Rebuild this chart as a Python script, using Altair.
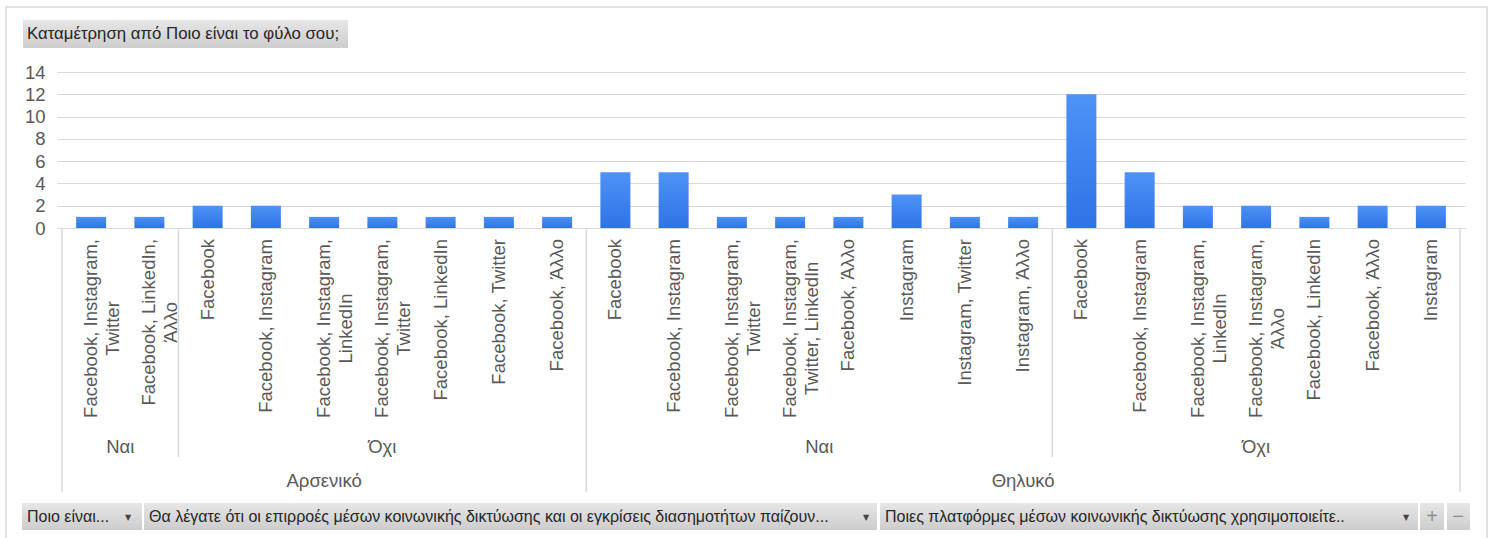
import altair as alt
import pandas as pd

# ---------------- data ----------------
genders = ["Αρσενικό"] * 9 + ["Θηλυκό"] * 15
influence = ["Ναι"] * 2 + ["Όχι"] * 7 + ["Ναι"] * 8 + ["Όχι"] * 7
platforms = [
    "Facebook, Instagram,\nTwitter", "Facebook, LinkedIn,\nΆλλο",
    "Facebook", "Facebook, Instagram", "Facebook, Instagram,\nLinkedIn",
    "Facebook, Instagram,\nTwitter", "Facebook, LinkedIn", "Facebook, Twitter",
    "Facebook, Άλλο",
    "Facebook", "Facebook, Instagram", "Facebook, Instagram,\nTwitter",
    "Facebook, Instagram,\nTwitter, LinkedIn", "Facebook, Άλλο", "Instagram",
    "Instagram, Twitter", "Instagram, Άλλο",
    "Facebook", "Facebook, Instagram", "Facebook, Instagram,\nLinkedIn",
    "Facebook, Instagram,\nΆλλο", "Facebook, LinkedIn", "Facebook, Άλλο",
    "Instagram",
]
counts = [1, 1, 2, 2, 1, 1, 1, 1, 1, 5, 5, 1, 1, 1, 3, 1, 1, 12, 5, 2, 2, 1, 2, 2]
y_ticks = [0, 2, 4, 6, 8, 10, 12, 14]

title_text = "Καταμέτρηση από Ποιο είναι το φύλο σου;"
filter_texts = [
    "Ποιο είναι...",
    "Θα λέγατε ότι οι επιρροές μέσων κοινωνικής δικτύωσης και οι εγκρίσεις διασημοτήτων παίζουν...",
    "Ποιες πλατφόρμες μέσων κοινωνικής δικτύωσης χρησιμοποιείτε..",
]

# ---------------- layout constants ----------------
W, H = 1408, 156          # plot area
OX, OY = 57, 72           # plot origin on the page
FONT = "Liberation Sans"
LBL = 18.5
GRAY = "#595959"
LINE = "#d9d9d9"
PX_PER_UNIT = H / 14.0

# approximate Arial / Liberation Sans advance widths (per 1000 em)
AW = {"F": 611, "a": 556, "c": 500, "e": 556, "b": 556, "o": 556, "k": 500,
      ",": 278, " ": 278, "I": 278, "n": 556, "s": 500, "t": 278, "g": 556,
      "r": 333, "m": 833, "L": 556, "i": 222, "d": 556, "T": 611, "w": 722,
      "l": 222, "Ά": 667, "λ": 500, "ο": 556}


def text_w(s, size):
    return sum(AW.get(ch, 556) for ch in s) * size / 1000.0


n = len(counts)
df = pd.DataFrame({"idx": list(range(n)), "gender": genders, "infl": influence,
                   "platform": platforms, "count": counts})
df["xc"] = df["idx"] + 0.5
df["multi"] = df["platform"].str.contains("\n")
label_top_gap = 11  # px between axis and top of the labels
df["ly"] = [-(label_top_gap + max(text_w(l, LBL) for l in p.split("\n")) / 2) / PX_PER_UNIT
            for p in platforms]

# group spans
g2 = df.groupby(["gender", "infl"], sort=False)["idx"].agg(["min", "max"]).reset_index()
g2["center"] = (g2["min"] + g2["max"] + 1) / 2
g1 = df.groupby("gender", sort=False)["idx"].agg(["min", "max"]).reset_index()
g1["center"] = (g1["min"] + g1["max"] + 1) / 2
lvl1_bounds = sorted(set(g1["min"].tolist() + [n]))
lvl2_bounds = sorted(set(g2["min"].tolist()) - set(lvl1_bounds))

xscale = alt.Scale(domain=[0, n], nice=False, zero=False)
yscale = alt.Scale(domain=[0, 14], nice=False)
y_axis = alt.Axis(values=y_ticks, grid=True, gridColor=LINE, gridWidth=1,
                  domain=False, ticks=False, tickSize=0, labelPadding=12,
                  labelOverlap=False, labelBound=False, labelFontSize=LBL,
                  labelColor=GRAY, labelFont=FONT, title=None)

one = alt.Data(values=[{}])

btn_grad = alt.Gradient(gradient="linear",
                        stops=[alt.GradientStop(color="#e6e6e6", offset=0),
                               alt.GradientStop(color="#cdcdcd", offset=1)],
                        x1=0, x2=0, y1=0, y2=1)
bar_grad = alt.Gradient(gradient="linear",
                        stops=[alt.GradientStop(color="#4f92f7", offset=0),
                               alt.GradientStop(color="#2f73e6", offset=1)],
                        x1=0, x2=0, y1=0, y2=1)


def rect(x0, x1, y0, y1, **kw):
    return alt.Chart(one).mark_rect(**kw).encode(
        x=alt.value(x0 - OX), x2=alt.value(x1 - OX),
        y=alt.value(y0 - OY), y2=alt.value(y1 - OY))


def label(txt, x, y, size=16, color="#262626", align="left", font=FONT):
    return alt.Chart(one).mark_text(text=txt, align=align, baseline="middle",
                                    fontSize=size, color=color, font=font).encode(
        x=alt.value(x - OX), y=alt.value(y - OY))


base = alt.Chart(df)

# bars with y axis / grid (first data layer, owns the axis)
bars = base.mark_bar(width=30, fill=bar_grad).encode(
    x=alt.X("xc:Q", scale=xscale, axis=None),
    y=alt.Y("count:Q", scale=yscale, axis=y_axis),
)

layers = []

# outer border
layers.append(rect(6, 1487, 7, 560, fillOpacity=0, stroke=LINE, strokeWidth=1.5))

# title button
layers.append(rect(23, 348, 20, 48, fill=btn_grad))
layers.append(label(title_text, 27, 34, size=16.8))

# bottom filter bar
for (a, b) in [(22, 142), (144, 877), (880, 1418), (1420, 1444), (1447, 1470)]:
    layers.append(rect(a, b, 503, 530, fill=btn_grad))
for txt, x in zip(filter_texts, [27, 149, 885]):
    layers.append(label(txt, x, 517, size=16))
for x in [128, 866, 1406]:
    layers.append(label("▼", x, 518, size=8, color="#444444", align="center",
                        font="DejaVu Sans"))
layers.append(label("+", 1432, 517, size=20, color="#8c8c8c", align="center"))
layers.append(label("−", 1458, 517, size=20, color="#8c8c8c", align="center"))

layers.append(bars)

# separators (start at the category axis line, which is the bottom of the plot)
sep1 = alt.Chart(pd.DataFrame({"b": lvl1_bounds})).mark_rule(color=LINE, strokeWidth=1.5).encode(
    x=alt.X("b:Q", scale=xscale, axis=None), y=alt.value(H), y2=alt.value(492 - OY))
sep2 = alt.Chart(pd.DataFrame({"b": lvl2_bounds})).mark_rule(color=LINE, strokeWidth=1.5).encode(
    x=alt.X("b:Q", scale=xscale, axis=None), y=alt.value(H), y2=alt.value(457 - OY))
layers += [sep1, sep2]

# category labels (rotated)
single = base.transform_filter("!datum.multi").mark_text(
    angle=270, align="right", baseline="middle", fontSize=LBL, font=FONT,
    color=GRAY).encode(x=alt.X("xc:Q", scale=xscale, axis=None),
                       y=alt.value(H + label_top_gap), text="platform:N")
multi = base.transform_filter("datum.multi").mark_text(
    angle=270, align="center", baseline="middle", fontSize=LBL, font=FONT,
    color=GRAY, lineBreak="\n", lineHeight=22).encode(
    x=alt.X("xc:Q", scale=xscale, axis=None),
    y=alt.Y("ly:Q", scale=yscale, axis=y_axis),
    text="platform:N")
layers += [single, multi]

# group labels
lab2 = alt.Chart(g2).mark_text(fontSize=LBL, font=FONT, color=GRAY, baseline="middle").encode(
    x=alt.X("center:Q", scale=xscale, axis=None), y=alt.value(447 - OY), text="infl:N")
lab1 = alt.Chart(g1).mark_text(fontSize=LBL, font=FONT, color=GRAY, baseline="middle").encode(
    x=alt.X("center:Q", scale=xscale, axis=None), y=alt.value(481 - OY), text="gender:N")
layers += [lab2, lab1]

chart = alt.layer(*layers).properties(
    width=W, height=H,
    autosize=alt.AutoSizeParams(type="none"),
    padding={"left": OX, "top": OY, "right": 1494 - OX - W, "bottom": 538 - OY - H},
    background="white",
).configure_view(strokeWidth=0)

chart.save("out.html", embed_options={"renderer": "svg", "actions": False})
